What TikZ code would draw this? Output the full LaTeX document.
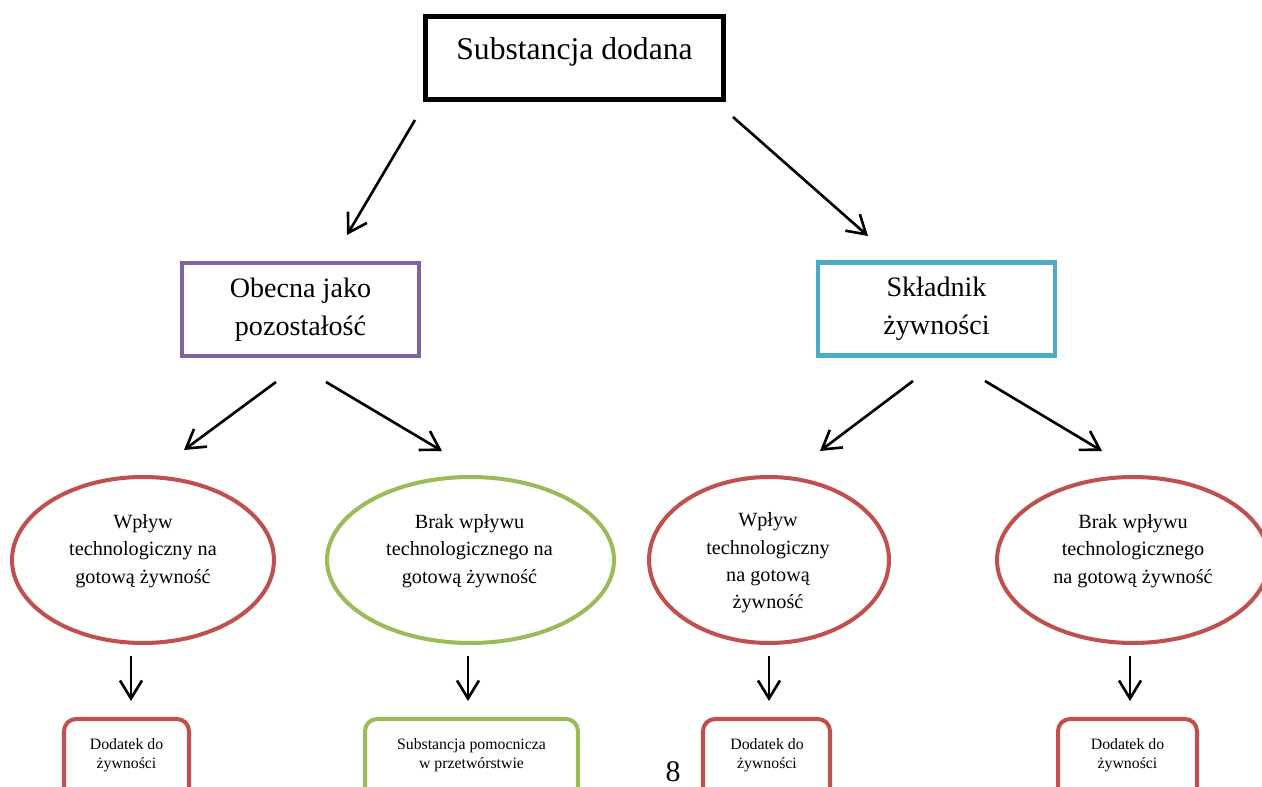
\documentclass[tikz,border=0pt]{standalone}
\usepackage{fontspec}
\setmainfont{Liberation Serif}
\usetikzlibrary{arrows.meta,shapes.geometric}
\definecolor{redcol}{HTML}{C0504D}
\definecolor{grncol}{HTML}{9BBB59}
\definecolor{prpcol}{HTML}{8064A2}
\definecolor{cyncol}{HTML}{4BACC6}

\begin{document}
\begin{tikzpicture}[x=0.02cm,y=-0.02cm,
    arr/.style={-{Straight Barb[length=0.36cm,width=0.44cm]},line width=1.5pt},
    mainbox/.style={draw,line width=2.8pt,minimum width=5.96cm,inner ysep=0pt,text height=24.7pt,
      text depth=22.5pt,font=\fontsize{18}{22}\selectfont},
    catbox/.style={draw,line width=2.3pt,minimum width=4.74cm,minimum height=1.86cm,align=center,
      font=\fontsize{16}{21.5}\selectfont},
    ell/.style={ellipse,draw,line width=2.3pt,minimum height=3.32cm,inner sep=0pt},
    etxt/.style={align=center,inner sep=0pt,font=\fontsize{11.5}{15.6}\selectfont},
    endbox/.style={draw,line width=2.3pt,rounded corners=0.24cm,minimum height=2.22cm},
    btxt/.style={align=center,inner sep=0pt,font=\fontsize{9}{10.8}\selectfont}]
  \useasboundingbox (0,0) rectangle (1262,787);
  \node[mainbox] (sub) at (574.5,58) {Substancja dodana};
  \node[catbox,draw=prpcol] (res) at (300.5,309.5) {Obecna jako\\pozostałość};
  \node[catbox,draw=cyncol] (ing) at (936.5,309) {Składnik\\żywności};
  % ellipses
  \node[ell,draw=redcol,minimum width=5.24cm] (e1) at (143,560) {};
  \node[etxt] (e1t) at (143,551) {Wpływ\\technologiczny na\\gotową żywność};
  \node[ell,draw=grncol,minimum width=5.74cm] (e2) at (470.5,560) {};
  \node[etxt] (e2t) at (469.5,551) {Brak wpływu\\technologicznego na\\gotową żywność};
  \node[ell,draw=redcol,minimum width=4.8cm] (e3) at (769,560) {};
  \node[etxt] (e3t) at (768,563) {Wpływ\\technologiczny\\na gotową\\żywność};
  \node[ell,draw=redcol,minimum width=5.44cm] (e4) at (1133,560) {};
  \node[etxt] (e4t) at (1133,551) {Brak wpływu\\technologicznego\\na gotową żywność};
  % bottom boxes
  \node[endbox,draw=redcol,minimum width=2.5cm] (d1) at (126.5,774.5) {};
  \node[btxt] (d1t) at (126.5,755) {Dodatek do\\żywności};
  \node[endbox,draw=grncol,minimum width=4.26cm] (d2) at (471.5,774.5) {};
  \node[btxt] (d2t) at (471.5,755) {Substancja pomocnicza\\w przetwórstwie};
  \node[endbox,draw=redcol,minimum width=2.54cm] (d3) at (766.5,774.5) {};
  \node[btxt] (d3t) at (767,755) {Dodatek do\\żywności};
  \node[endbox,draw=redcol,minimum width=2.78cm] (d4) at (1127.5,774.5) {};
  \node[btxt] (d4t) at (1127.5,755) {Dodatek do\\żywności};
  \node[inner sep=0pt,font=\fontsize{17}{20}\selectfont] (pg) at (673,772) {8};
  % arrows
  \coordinate (a1) at (415,120); \coordinate (b1) at (347,235);
  \coordinate (a2) at (733,117); \coordinate (b2) at (868,236);
  \coordinate (a3) at (276,382); \coordinate (b3) at (184,450);
  \coordinate (a4) at (326,382); \coordinate (b4) at (442,451);
  \coordinate (a5) at (913,381); \coordinate (b5) at (820,451);
  \coordinate (a6) at (985,381); \coordinate (b6) at (1102,451);
  \foreach \i in {1,...,6} \draw[arr] (a\i) -- (b\i);
  \foreach \i/\x in {1/131,2/468,3/769,4/1130} {
    \coordinate (u\i) at (\x,656); \coordinate (v\i) at (\x,701);
    \draw[arr] (u\i) -- (v\i);
  }
\end{tikzpicture}
\end{document}
